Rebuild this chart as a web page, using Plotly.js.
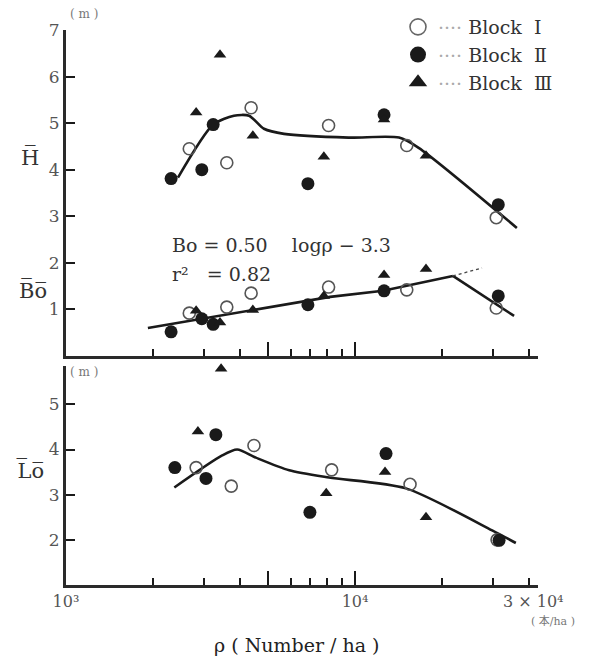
<!DOCTYPE html>
<html>
<head>
<meta charset="utf-8">
<script src="https://cdn.plot.ly/plotly-3.0.1.min.js"></script>
<style>html,body{margin:0;padding:0;background:#fff;}#chart{width:606px;height:664px;}</style>
</head>
<body>
<div id="chart"></div>
<script>
// ---- Data ----
// Upper panel: mean height H (m)
const rhoBlockI_H   = [2670, 3600, 4370, 8100, 15100, 30800];
const hBlockI       = [4.45, 4.15, 5.33, 4.95, 4.52, 2.97];
const rhoBlockII_H  = [2310, 2950, 3230, 6870, 12600, 31300];
const hBlockII      = [3.81, 4.00, 4.97, 3.70, 5.18, 3.25];
const rhoBlockIII_H = [2820, 3410, 4430, 7800, 12600, 17600];
const hBlockIII     = [5.23, 6.47, 4.73, 4.28, 5.08, 4.30];
const rhoFitH       = [2440, 3230, 3810, 4300, 4840, 5680, 9500, 14200, 16600, 36300];
const hFit          = [3.83, 4.97, 5.16, 5.16, 4.88, 4.77, 4.69, 4.69, 4.47, 2.75];

// Upper panel: mean Bo (m)
const rhoBlockI_Bo   = [2670, 3600, 4370, 8100, 15100, 30800];
const boBlockI       = [0.92, 1.05, 1.35, 1.48, 1.42, 1.03];
const rhoBlockII_Bo  = [2310, 2950, 3230, 6870, 12600, 31300];
const boBlockII      = [0.52, 0.80, 0.68, 1.10, 1.40, 1.29];
const rhoBlockIII_Bo = [2820, 3410, 4430, 7800, 12600, 17600];
const boBlockIII     = [0.97, 0.72, 0.99, 1.29, 1.74, 1.87];
const rhoFitBo       = [1920, 8200, 12500, 21800];
const boFit          = [0.60, 1.27, 1.40, 1.72];
const rhoFitBoDrop   = [21800, 35500];
const boFitDrop      = [1.72, 0.86];
const rhoFitBoExt    = [21800, 27500];
const boFitExt       = [1.72, 1.89];

// Lower panel: mean Lo (m)
const rhoBlockI_Lo   = [2820, 3730, 4470, 8300, 15500, 31000];
const loBlockI       = [3.60, 3.19, 4.09, 3.55, 3.23, 2.00];
const rhoBlockII_Lo  = [2380, 3050, 3300, 6980, 12800, 31500];
const loBlockII      = [3.60, 3.36, 4.33, 2.61, 3.91, 1.99];
const rhoBlockIII_Lo = [2860, 3440, 7950, 12700, 17600];
const loBlockIII     = [4.40, 5.79, 3.03, 3.50, 2.50];
const rhoFitLo       = [2370, 3470, 3910, 4540, 5920, 8130, 15000, 29800, 36000];
const loFit          = [3.16, 3.87, 4.00, 3.82, 3.54, 3.38, 3.14, 2.21, 1.93];

// Ticks
const xMajorTicks   = [1000, 5000, 10000];
const xMajorText    = ['10³', '', '10⁴'];
const xMinorTicks   = [2000, 3000, 4000, 6000, 7000, 8000, 9000, 20000, 30000, 40000];
const yUpperTicks   = [1, 2, 3, 4, 5, 6, 7];
const yLowerTicks   = [2, 3, 4, 5];
const legendNames   = ['Block&nbsp;&nbsp;Ⅰ', 'Block&nbsp;&nbsp;Ⅱ', 'Block&nbsp;&nbsp;Ⅲ'];

// ---- Styles ----
const FONT = 'DejaVu Serif, Liberation Serif, serif';
const INK = '#1a1a1a';
const openM  = {symbol: 'circle-open', size: 12, color: '#555', line: {width: 1.6, color: '#555'}};
const fillM  = {symbol: 'circle', size: 13, color: INK};
const triM   = {symbol: 'triangle-up', size: 11, color: INK};
const fitLine = {color: INK, width: 2.6};

function pts(x, y, marker, xa, ya) {
  return {x: x, y: y, xaxis: xa, yaxis: ya, type: 'scatter', mode: 'markers',
          marker: marker, showlegend: false, cliponaxis: false, hoverinfo: 'skip'};
}
function line(x, y, xa, ya, style, shape) {
  return {x: x, y: y, xaxis: xa, yaxis: ya, type: 'scatter', mode: 'lines',
          line: Object.assign({shape: shape || 'linear', smoothing: 0.7}, style),
          showlegend: false, cliponaxis: false, hoverinfo: 'skip'};
}
const dots = '<span style="color:#aaa">····</span> ';

const traces = [
  line(rhoFitH, hFit, 'x', 'y', fitLine, 'spline'),
  line(rhoFitBo, boFit, 'x', 'y', fitLine),
  line(rhoFitBoDrop, boFitDrop, 'x', 'y', fitLine),
  line(rhoFitBoExt, boFitExt, 'x', 'y', {color: '#444', width: 1.3, dash: 'dot'}),
  line(rhoFitLo, loFit, 'x2', 'y2', fitLine, 'spline'),
  pts(rhoBlockI_H, hBlockI, openM, 'x', 'y'),
  pts(rhoBlockII_H, hBlockII, fillM, 'x', 'y'),
  pts(rhoBlockIII_H, hBlockIII, triM, 'x', 'y'),
  pts(rhoBlockI_Bo, boBlockI, openM, 'x', 'y'),
  pts(rhoBlockII_Bo, boBlockII, fillM, 'x', 'y'),
  pts(rhoBlockIII_Bo, boBlockIII, triM, 'x', 'y'),
  pts(rhoBlockI_Lo, loBlockI, openM, 'x2', 'y2'),
  pts(rhoBlockII_Lo, loBlockII, fillM, 'x2', 'y2'),
  pts(rhoBlockIII_Lo, loBlockIII, triM, 'x2', 'y2'),
  // legend entries
  {x: [null], y: [null], type: 'scatter', mode: 'markers', name: dots + legendNames[0],
   marker: {symbol: 'circle-open', size: 16, color: '#666', line: {width: 1.6, color: '#666'}}},
  {x: [null], y: [null], type: 'scatter', mode: 'markers', name: dots + legendNames[1],
   marker: {symbol: 'circle', size: 16, color: INK}},
  {x: [null], y: [null], type: 'scatter', mode: 'markers', name: dots + legendNames[2],
   marker: {symbol: 'triangle-up', size: 16, color: INK}}
];

const W = 606, H = 664;
const px = v => v / W;
const py = v => 1 - v / H;

const xCommon = {
  type: 'log', range: [3, 4.633], domain: [px(66), px(538)],
  showline: true, linecolor: '#2a2a2a', linewidth: 3, showgrid: false, zeroline: false,
  ticks: 'inside', tickmode: 'array', tickvals: xMajorTicks, ticktext: xMajorText,
  ticklen: 14, tickwidth: 2, tickcolor: INK,
  minor: {tickmode: 'array', tickvals: xMinorTicks, ticks: 'inside', ticklen: 7, tickwidth: 2, tickcolor: INK, showgrid: false},
  tickfont: {family: FONT, size: 16, color: '#555'}, fixedrange: true
};
const yCommon = {
  showline: true, linecolor: '#2a2a2a', linewidth: 3, showgrid: false, zeroline: false,
  ticks: 'inside', ticklen: 9, tickwidth: 2, tickcolor: INK, tickmode: 'array',
  tickfont: {family: FONT, size: 17, color: '#555'}, fixedrange: true
};

const ann = (text, x, y, size, opts) => Object.assign({
  text: text, x: px(x), y: py(y), xref: 'paper', yref: 'paper', showarrow: false,
  xanchor: 'left', yanchor: 'middle', font: {family: FONT, size: size, color: '#333'}
}, opts || {});

const layout = {
  width: W, height: H, margin: {l: 0, r: 0, t: 0, b: 0},
  paper_bgcolor: '#fff', plot_bgcolor: 'rgba(0,0,0,0)',
  xaxis: Object.assign({}, xCommon, {anchor: 'y', showticklabels: false}),
  yaxis: Object.assign({}, yCommon, {anchor: 'x', range: [0, 7.0], domain: [py(356), py(30)], tickvals: yUpperTicks}),
  xaxis2: Object.assign({}, xCommon, {anchor: 'y2', showticklabels: true}),
  yaxis2: Object.assign({}, yCommon, {anchor: 'x2', range: [1, 5.85], domain: [py(585), py(366)], tickvals: yLowerTicks}),
  showlegend: true,
  legend: {x: px(398), y: py(8), xanchor: 'left', yanchor: 'top', bgcolor: 'rgba(0,0,0,0)',
           font: {family: FONT, size: 19, color: '#333'}, itemclick: false, itemdoubleclick: false},
  annotations: [
    ann('( m )', 68, 14, 12, {font: {family: FONT, size: 12, color: '#777'}}),
    ann('( m )', 68, 372, 12, {font: {family: FONT, size: 12, color: '#777'}}),
    ann('H\u0305', 30, 157, 21, {xanchor: 'center'}),
    ann('B\u0305o\u0305', 33, 290, 21, {xanchor: 'center'}),
    ann('L\u0305o\u0305', 30, 470, 21, {xanchor: 'center'}),
    ann('Bo = 0.50&nbsp;&nbsp;&nbsp;&nbsp;logρ − 3.3', 170, 245, 19),
    ann('r² &nbsp;&nbsp;= 0.82', 170, 274, 19),
    ann('3 × 10⁴', 533, 601, 16, {xanchor: 'center', font: {family: FONT, size: 16, color: '#555'}}),
    ann('( 本/ha )', 553, 621, 11, {xanchor: 'center', font: {family: FONT + ', Noto Sans CJK JP', size: 11, color: '#777'}}),
    ann('ρ ( Number / ha )', 297, 645, 19, {xanchor: 'center', font: {family: FONT, size: 19, color: '#222'}})
  ]
};

Plotly.newPlot('chart', traces, layout, {staticPlot: true, displayModeBar: false});
</script>
</body>
</html>
